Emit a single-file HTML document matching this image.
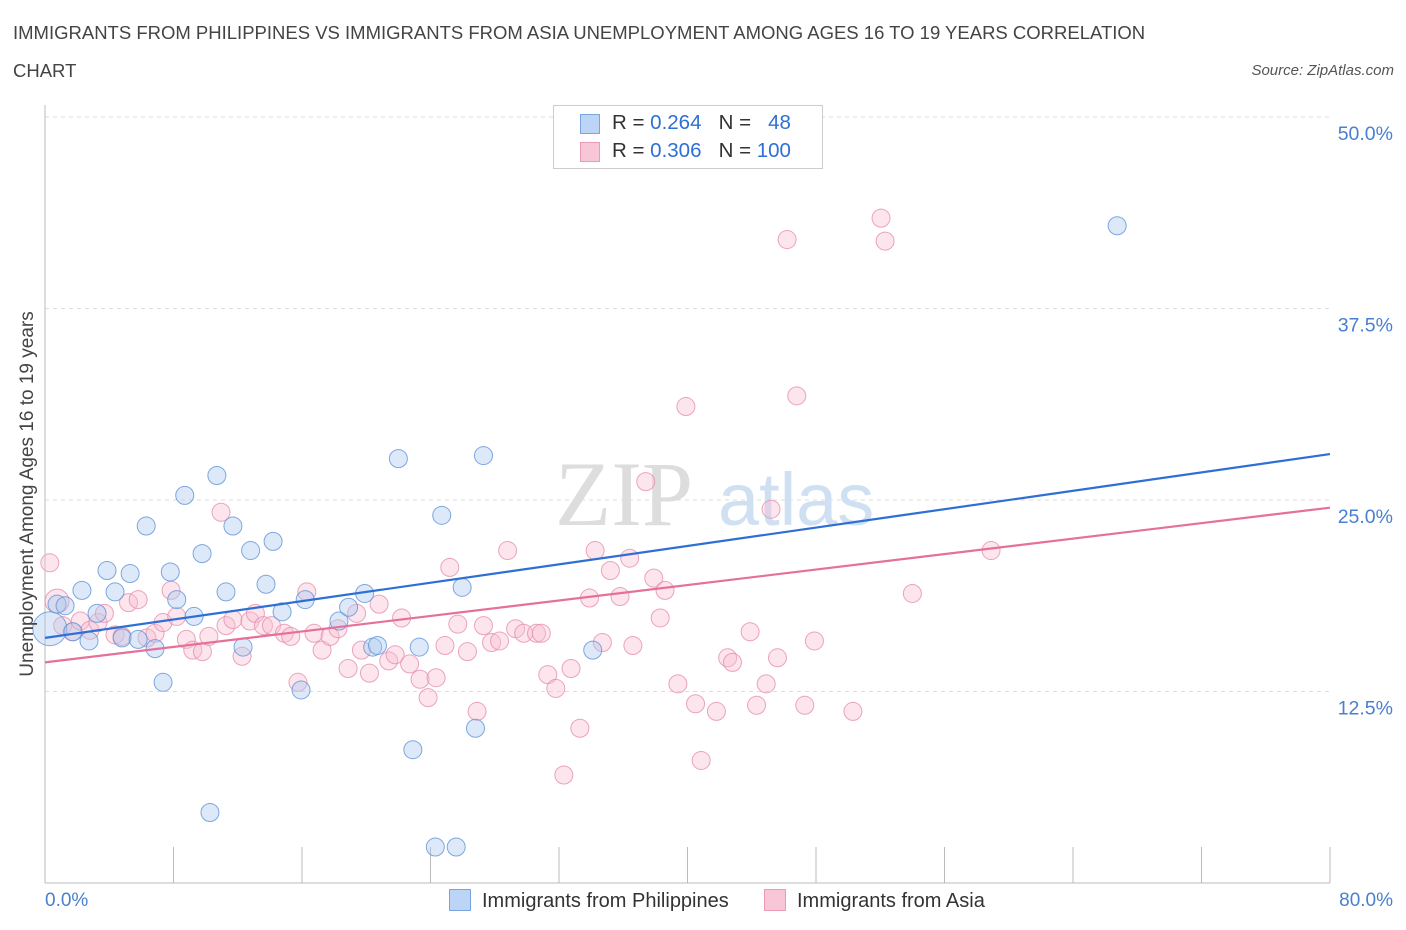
<!DOCTYPE html>
<html><head><meta charset="utf-8"><style>
body{margin:0;background:#fff;font-family:"Liberation Sans",sans-serif;}
#wrap{position:relative;width:1406px;height:930px;overflow:hidden;}
.t{position:absolute;white-space:nowrap;}
</style></head><body>
<div id="wrap">
<div class="t" style="left:13px;top:14px;font-size:18.5px;color:#444;line-height:38px;">IMMIGRANTS FROM PHILIPPINES VS IMMIGRANTS FROM ASIA UNEMPLOYMENT AMONG AGES 16 TO 19 YEARS CORRELATION<br>CHART</div>
<div class="t" style="right:12px;top:62px;font-size:15px;color:#555;font-style:italic;">Source: ZipAtlas.com</div>
<svg id="svg" width="1406" height="930" style="position:absolute;left:0;top:0;"></svg>
</div>
<script>
const xTicks=[0,8,16,24,32,40,48,56,64,72,80];
const yTicks=[12.5,25,37.5,50];
const yTickLabels=["12.5%","25.0%","37.5%","50.0%"];
const blueX=[0.3,0.75,1.25,1.74,2.3,2.74,3.24,3.86,4.36,4.8,5.3,5.8,6.3,6.85,7.35,7.8,8.2,8.7,9.28,9.78,10.27,10.7,11.27,11.7,12.33,12.8,13.76,14.2,14.76,15.94,16.2,18.3,18.9,19.9,20.4,20.7,22.0,22.9,23.3,24.3,24.7,25.6,25.97,26.8,27.3,34.1,66.75];
const blueY=[16.6,18.2,18.1,16.4,19.1,15.8,17.6,20.4,19.0,16.0,20.2,15.9,23.3,15.3,13.1,20.3,18.5,25.3,17.4,21.5,4.6,26.6,19.0,23.3,15.4,21.7,19.5,22.3,17.7,12.6,18.5,17.1,18.0,18.9,15.4,15.5,27.7,8.7,15.4,2.35,24.0,2.35,19.3,10.1,27.9,15.2,42.9];
const pinkX=[0.3,0.75,1.1,1.7,2.2,2.8,3.3,3.7,4.36,4.8,5.2,5.8,6.35,6.85,7.35,7.85,8.2,8.8,9.2,9.8,10.2,10.96,11.27,11.7,12.27,12.76,13.1,13.6,14.1,14.9,15.3,15.75,16.3,16.75,17.25,17.75,18.24,18.87,19.4,19.7,20.2,20.8,21.4,21.8,22.2,22.7,23.35,23.85,24.35,24.9,25.2,25.7,26.3,26.9,27.3,27.8,28.3,28.8,29.3,29.8,30.6,30.9,31.3,31.8,32.3,32.75,33.3,33.9,34.25,34.7,35.2,35.8,36.4,36.6,37.4,37.9,38.3,38.6,39.4,39.9,40.5,40.85,41.8,42.5,42.8,43.9,44.3,44.9,45.2,45.6,46.2,46.8,47.3,47.9,50.3,52.05,52.3,54.0,58.9];
const pinkY=[20.9,18.4,16.8,16.4,17.1,16.5,17.0,17.6,16.2,16.1,18.3,18.5,16.0,16.3,17.0,19.1,17.4,15.9,15.2,15.1,16.1,24.2,16.8,17.2,14.8,17.1,17.6,16.8,16.8,16.3,16.1,13.1,19.0,16.3,15.2,16.1,16.6,14.0,17.6,15.2,13.7,18.2,14.5,14.9,17.3,14.3,13.3,12.1,13.4,15.5,20.6,16.9,15.1,11.2,16.8,15.7,15.8,21.7,16.6,16.3,16.3,16.3,13.6,12.7,7.05,14.0,10.1,18.6,21.7,15.7,20.4,18.7,21.2,15.5,26.2,19.9,17.3,19.1,13.0,31.1,11.7,8.0,11.2,14.7,14.4,16.4,11.6,13.0,24.4,14.7,42.0,31.8,11.6,15.8,11.2,43.4,41.9,18.9,21.7];
const blueTrend=[16.0,28.0];
const pinkTrend=[14.4,24.5];
const NS="http://www.w3.org/2000/svg";
const svg=document.getElementById('svg');
const X=v=>45+v*(1285/80);
const Y=v=>883-v*(191.5/12.5);
function mk(tag,attrs,parent){const e=document.createElementNS(NS,tag);for(const k in attrs)e.setAttribute(k,attrs[k]);(parent||svg).appendChild(e);return e;}
yTicks.forEach((t,i)=>{
 const g=mk('line',{x1:45,x2:1330,y1:Y(t),y2:Y(t),stroke:'#ddd','stroke-dasharray':'4,4'});
 
 
 const l=mk('text',{x:1393,y:Y(t)+23,'text-anchor':'end','font-size':19.5,fill:'#4a7fd0','font-family':'Liberation Sans'});
 l.textContent=yTickLabels[i];
 
 
});
const ax=mk('line',{x1:45,x2:1330,y1:883,y2:883,stroke:'#bbb'});


const ay=mk('line',{x1:45,x2:45,y1:105,y2:883,stroke:'#bbb'});


xTicks.forEach(t=>{
 const k=mk('line',{x1:X(t),x2:X(t),y1:847,y2:883,stroke:'#bbb'});
 
 
});
const wm=mk('text',{x:555,y:525,'font-size':92,fill:'#ddd','font-family':'Liberation Serif'});wm.textContent='ZIP';


const wm2=mk('text',{x:718,y:525,'font-size':74,fill:'#cfe0f3','font-family':'Liberation Sans'});wm2.textContent='atlas';


function pts(xs,ys,fill,stroke,name){
 xs.forEach((x,i)=>{
  const r=(name==='blue-point'&&i===0)?17:(name==='pink-point'&&i===1)?12:9;
  const c=mk('circle',{cx:X(x),cy:Y(ys[i]),r:r,fill:fill,'fill-opacity':0.4,stroke:stroke,'stroke-width':1,'stroke-opacity':0.8});
  
  
 });
}
pts(pinkX,pinkY,'#f7bfd2','#e68fae','pink-point');
pts(blueX,blueY,'#a9c9f1','#5f93d8','blue-point');
const bl=mk('line',{x1:X(0),y1:Y(blueTrend[0]),x2:X(80),y2:Y(blueTrend[1]),stroke:'#2e6fd6','stroke-width':2.2});


const pl=mk('line',{x1:X(0),y1:Y(pinkTrend[0]),x2:X(80),y2:Y(pinkTrend[1]),stroke:'#e5709a','stroke-width':2.2});


</script>
<div class="t" style="left:28px;top:494px;transform:translate(-50%,-50%) rotate(-90deg);font-size:19px;color:#444;">Unemployment Among Ages 16 to 19 years</div>
<div class="t" style="left:45px;top:890px;font-size:19px;color:#4a7fd0;">0.0%</div>
<div class="t" style="right:13px;top:890px;font-size:19px;color:#4a7fd0;">80.0%</div>
<div style="position:absolute;left:553px;top:105px;width:268px;height:62px;border:1px solid #ccc;background:#fff;font-size:20.5px;color:#333;">
 <div style="position:absolute;left:26px;top:8px;width:18px;height:18px;background:#bcd4f5;border:1px solid #7aa5e0;"></div>
 <div class="t" style="left:58px;top:5px;">R = <span style="color:#2e6fd6">0.264</span>&nbsp;&nbsp;&nbsp;N = &nbsp;&nbsp;<span style="color:#2e6fd6">48</span></div>
 <div style="position:absolute;left:26px;top:36px;width:18px;height:18px;background:#f8c6d6;border:1px solid #e99ab5;"></div>
 <div class="t" style="left:58px;top:33px;">R = <span style="color:#2e6fd6">0.306</span>&nbsp;&nbsp;&nbsp;N = <span style="color:#2e6fd6">100</span></div>
</div>
<div style="position:absolute;left:449px;top:889px;font-size:20px;color:#333;">
 <span style="display:inline-block;width:20px;height:20px;background:#bcd4f5;border:1px solid #7aa5e0;vertical-align:-4px;margin-right:11px;"></span>Immigrants from Philippines</div>
<div style="position:absolute;left:764px;top:889px;font-size:20px;color:#333;">
 <span style="display:inline-block;width:20px;height:20px;background:#f8c6d6;border:1px solid #e99ab5;vertical-align:-4px;margin-right:11px;"></span>Immigrants from Asia</div>
</body></html>
